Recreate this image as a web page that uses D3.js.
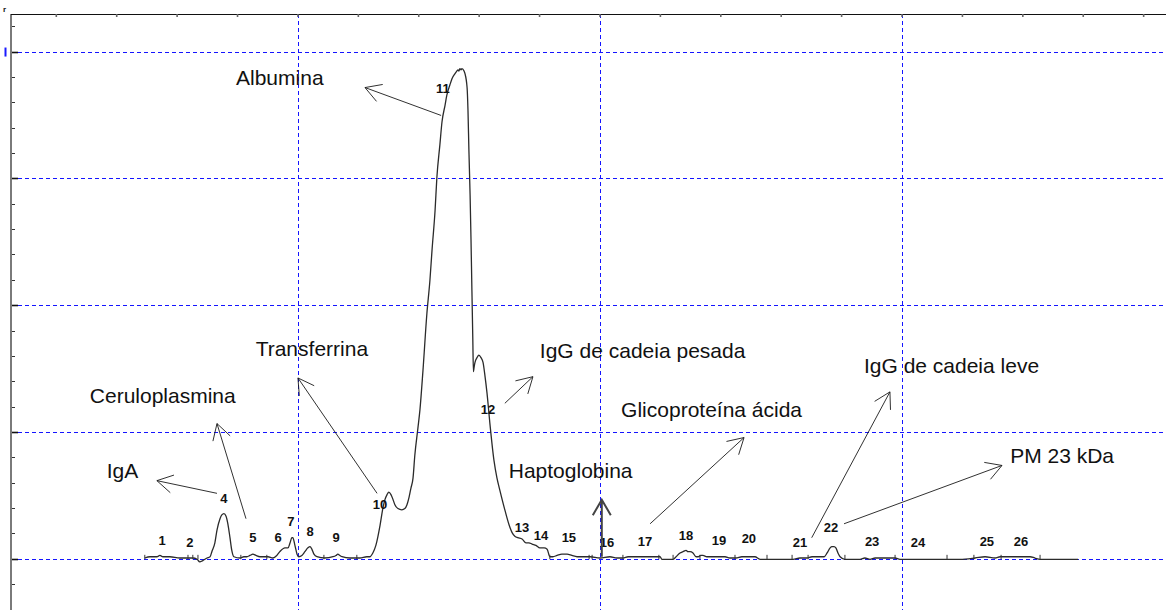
<!DOCTYPE html>
<html>
<head>
<meta charset="utf-8">
<script src="https://cdn.jsdelivr.net/npm/d3@7"></script>
<style>
  html, body { margin: 0; padding: 0; background: #fff; }
  svg { display: block; }
</style>
</head>
<body>
<svg id="chart" width="1166" height="610"></svg>
<script>
// Densitometric scan of a serum protein gel: [mobility (mm), optical density]
const densitometerTrace = [
  [4.93,0.01],[5.10,0.02],[5.33,0.02],[5.43,0.03],[5.53,0.02],[5.76,0.02],[6.09,0.01],[6.32,0.01],
  [6.52,0.01],[6.66,0.00],[6.75,-0.02],[6.85,-0.01],[6.99,0.01],[7.09,0.02],[7.15,0.06],[7.25,0.13],
  [7.32,0.23],[7.42,0.32],[7.48,0.35],[7.55,0.36],[7.62,0.34],[7.68,0.28],[7.75,0.17],[7.81,0.07],
  [7.88,0.02],[8.08,0.01],[8.21,0.02],[8.31,0.02],[8.41,0.03],[8.51,0.04],[8.61,0.03],[8.74,0.02],
  [9.01,0.02],[9.17,0.01],[9.30,0.03],[9.40,0.06],[9.57,0.09],[9.67,0.09],[9.74,0.13],[9.80,0.17],
  [9.83,0.17],[9.90,0.11],[9.97,0.04],[10.03,0.02],[10.13,0.03],[10.23,0.06],[10.33,0.09],[10.40,0.10],
  [10.46,0.08],[10.53,0.04],[10.63,0.02],[10.89,0.01],[11.16,0.02],[11.26,0.03],[11.32,0.04],[11.39,0.03],
  [11.46,0.02],[11.72,0.01],[12.05,0.01],[12.28,0.02],[12.38,0.02],[12.48,0.05],[12.58,0.11],[12.72,0.27],
  [12.81,0.40],[12.88,0.47],[12.95,0.51],[13.01,0.53],[13.08,0.51],[13.15,0.47],[13.21,0.43],[13.31,0.40],
  [13.44,0.39],[13.54,0.40],[13.61,0.43],[13.68,0.49],[13.74,0.56],[13.81,0.64],[13.87,0.82],[13.97,1.03],
  [14.04,1.18],[14.14,1.49],[14.27,1.94],[14.37,2.20],[14.44,2.44],[14.54,2.75],[14.60,3.01],[14.70,3.27],
  [14.77,3.45],[14.87,3.58],[14.93,3.66],[15.03,3.74],[15.10,3.79],[15.20,3.83],[15.26,3.85],[15.30,3.86],
  [15.33,3.85],[15.36,3.87],[15.40,3.86],[15.43,3.87],[15.50,3.85],[15.53,3.83],[15.60,3.72],[15.63,3.54],
  [15.66,3.23],[15.70,2.87],[15.73,2.52],[15.76,2.12],[15.79,1.73],[15.81,1.48],[15.83,1.51],[15.86,1.55],
  [15.93,1.59],[15.99,1.61],[16.06,1.59],[16.13,1.55],[16.19,1.45],[16.26,1.31],[16.36,1.06],[16.49,0.78],
  [16.59,0.64],[16.69,0.54],[16.85,0.39],[17.02,0.25],[17.09,0.21],[17.19,0.18],[17.28,0.17],[17.42,0.16],
  [17.55,0.13],[17.65,0.13],[17.75,0.12],[17.88,0.11],[18.01,0.09],[18.15,0.09],[18.25,0.08],[18.34,0.02],
  [18.44,0.02],[18.58,0.03],[18.74,0.04],[18.91,0.04],[19.07,0.03],[19.24,0.02],[19.44,0.02],[19.67,0.02],
  [20.00,0.01],[20.33,0.02],[20.56,0.01],[20.76,0.01],[20.93,0.02],[21.09,0.02],[21.32,0.02],[21.56,0.02],
  [21.75,0.02],[21.89,0.02],[21.99,0.02],[22.05,0.00],[22.32,0.00],[22.42,0.00],[22.52,0.02],[22.65,0.05],
  [22.75,0.06],[22.85,0.07],[22.91,0.06],[22.98,0.06],[23.08,0.05],[23.18,0.02],[23.25,0.02],[23.34,0.03],
  [23.41,0.03],[23.54,0.02],[23.71,0.02],[23.97,0.02],[24.14,0.02],[24.30,0.01],[24.50,0.01],[24.70,0.02],
  [24.87,0.02],[25.00,0.02],[25.13,0.02],[25.30,0.00],[25.63,0.00],[25.96,0.00],[26.39,0.00],[26.62,0.01],
  [26.85,0.01],[27.02,0.02],[27.28,0.02],[27.42,0.02],[27.52,0.05],[27.62,0.09],[27.68,0.10],[27.75,0.10],
  [27.81,0.09],[27.88,0.05],[27.95,0.02],[28.11,0.00],[28.44,0.00],[28.61,0.00],[28.77,0.01],[28.94,0.00],
  [29.11,0.01],[29.27,0.01],[29.54,0.01],[29.77,0.01],[29.93,0.00],[30.60,0.00],[31.92,0.00],[32.42,0.01],
  [32.75,0.02],[33.08,0.01],[33.25,0.02],[33.58,0.02],[33.91,0.02],[34.24,0.02],[34.40,0.01],[34.57,0.00],
  [35.83,0.00]
];

// Band boundaries marked by the integrator (mobility, mm)
const bandBoundaries = [4.93,6.36,6.52,6.69,8.11,8.97,10.86,11.95,18.34,19.64,19.74,20.76,21.95,
                        22.42,23.31,24.47,25.53,26.36,26.89,28.11,29.77,31.49,32.38,33.28,34.57];

// Band numbers and where each one is printed
const bandNumbers   = ["1","2","4","5","6","7","8","9","10","11","12","13","14","15","16","17","18","19","20","21","22","23","24","25","26"];
const bandNumberX   = [5.50,6.42,7.55,8.51,9.34,9.77,10.40,11.26,12.72,14.80,16.29,17.42,18.05,18.97,20.23,21.49,22.85,23.94,24.93,26.62,27.65,29.01,30.53,32.81,33.94];
const bandNumberY   = [0.15,0.13,0.48,0.17,0.17,0.30,0.22,0.17,0.43,3.71,1.18,0.25,0.19,0.17,0.13,0.14,0.19,0.15,0.16,0.13,0.25,0.14,0.13,0.14,0.14];

// Protein identifications with their callout text and arrows
const proteinNames  = ["Albumina","IgA","Ceruloplasmina","Transferrina","IgG de cadeia pesada","Glicoproteína ácida","Haptoglobina","IgG de cadeia leve","PM 23 kDa"];
const nameX         = [7.95,3.67,3.11,8.60,18.01,20.70,16.98,28.74,33.58];
const nameY         = [3.74,0.64,1.23,1.60,1.59,1.12,0.64,1.47,0.76];
const arrowTailX    = [14.74,7.32,8.28,12.62,16.85,21.66,20.06,27.01,28.08];
const arrowTailY    = [3.50,0.52,0.32,0.52,1.23,0.28,0.02,0.17,0.28];
const arrowTipX     = [12.22,5.33,7.32,10.00,17.78,24.77,20.06,29.60,33.31];
const arrowTipY     = [3.72,0.62,1.07,1.43,1.44,0.96,0.47,1.32,0.74];
const arrowBold     = [false,false,false,false,false,false,true,false,false];

// Grid and axis settings
const gridMobility  = [10, 20, 30];
const gridDensity   = [0, 1, 2, 3, 4];
const densityTicks  = d3.range(-0.4, 4.21, 0.2).map(v => +v.toFixed(1));
const mobilityTicks = d3.range(2, 39, 2);

const plot = { left: 11, top: 14, right: 1166, bottom: 610 };

const x = d3.scaleLinear().domain([0.5, 38.74]).range([plot.left, plot.right]);
const y = d3.scaleLinear().domain([-0.4, 4.3]).range([plot.bottom, plot.top]);
const snapX = v => Math.round(v) + 0.5;   // hairlines on the pixel grid
const snapY = v => Math.floor(v) + 0.5;

const svg = d3.select("#chart");
const FONT = "'Liberation Sans', Arial, Helvetica, sans-serif";
const GRID = "#1515ff";

// Dashed grid
svg.append("g").selectAll("line").data(gridDensity).join("line")
  .attr("x1", plot.left).attr("x2", plot.right)
  .attr("y1", d => snapY(y(d))).attr("y2", d => snapY(y(d)))
  .attr("stroke", GRID).attr("stroke-width", 1).attr("stroke-dasharray", "4,3");
svg.append("g").selectAll("line").data(gridMobility).join("line")
  .attr("x1", d => snapX(x(d))).attr("x2", d => snapX(x(d)))
  .attr("y1", plot.top).attr("y2", plot.bottom)
  .attr("stroke", GRID).attr("stroke-width", 1).attr("stroke-dasharray", "4,3");

// Frame: grey left axis, black top rule
svg.append("line").attr("x1", plot.left).attr("x2", plot.left)
  .attr("y1", plot.top).attr("y2", plot.bottom)
  .attr("stroke", "#7a7a7a").attr("stroke-width", 2);
svg.append("line").attr("x1", plot.left).attr("x2", plot.right)
  .attr("y1", plot.top + 0.5).attr("y2", plot.top + 0.5)
  .attr("stroke", "#111").attr("stroke-width", 1);

// Left axis ticks (long on whole units)
svg.append("g").selectAll("line").data(densityTicks).join("line")
  .attr("x1", plot.left + 1)
  .attr("x2", d => Number.isInteger(d) ? plot.left + 7 : plot.left + 4)
  .attr("y1", d => snapY(y(d))).attr("y2", d => snapY(y(d)))
  .attr("stroke", d => Number.isInteger(d) ? "#111" : "#333")
  .attr("stroke-width", d => Number.isInteger(d) ? 1.6 : 1);

// Top axis ticks
svg.append("g").selectAll("line").data(mobilityTicks).join("line")
  .attr("x1", d => x(d)).attr("x2", d => x(d))
  .attr("y1", plot.top).attr("y2", plot.top + 3)
  .attr("stroke", "#666").attr("stroke-width", 1.6);

// Clipped corner marks of the original scale
svg.append("text").attr("x", 3).attr("y", 12).text("r")
  .attr("font-family", FONT).attr("font-size", 8).attr("font-weight", "bold").attr("fill", "#111");
svg.append("rect").attr("x", 4.5).attr("y", y(4) - 4.5).attr("width", 2).attr("height", 9).attr("fill", "#1a1aff");

// Scan trace
const line = d3.line().x(d => x(d[0])).y(d => y(d[1])).curve(d3.curveMonotoneX);
svg.append("path").datum(densitometerTrace)
  .attr("d", line).attr("fill", "none")
  .attr("stroke", "#2b2b2b").attr("stroke-width", 1.3).attr("stroke-linejoin", "round");

// Band boundary markers on the baseline
svg.append("g").selectAll("line").data(bandBoundaries).join("line")
  .attr("x1", d => x(d)).attr("x2", d => x(d))
  .attr("y1", y(0)).attr("y2", y(0.035))
  .attr("stroke", "#333").attr("stroke-width", 1);

// Band numbers
svg.append("g").selectAll("text").data(bandNumbers).join("text")
  .attr("x", (d, i) => x(bandNumberX[i])).attr("y", (d, i) => y(bandNumberY[i]))
  .attr("text-anchor", "middle").attr("dominant-baseline", "central")
  .attr("font-family", FONT).attr("font-size", 13).attr("font-weight", "bold").attr("fill", "#111")
  .text(d => d);

// Callout arrows
const HEAD = 18, SPREAD = Math.PI / 6;
const arrows = svg.append("g");
proteinNames.forEach((name, i) => {
  const x0 = x(arrowTailX[i]), y0 = y(arrowTailY[i]);
  const x1 = x(arrowTipX[i]), y1 = y(arrowTipY[i]);
  const a = Math.atan2(y0 - y1, x0 - x1);
  const stroke = arrowBold[i] ? "#444" : "#1a1a1a";
  const width = arrowBold[i] ? 2 : 0.9;
  const p = d3.path();
  p.moveTo(x0, y0); p.lineTo(x1, y1);
  p.moveTo(x1 + HEAD * Math.cos(a + SPREAD), y1 + HEAD * Math.sin(a + SPREAD));
  p.lineTo(x1, y1);
  p.lineTo(x1 + HEAD * Math.cos(a - SPREAD), y1 + HEAD * Math.sin(a - SPREAD));
  arrows.append("path").attr("d", p.toString())
    .attr("fill", "none").attr("stroke", stroke).attr("stroke-width", width);
});

// Protein names
svg.append("g").selectAll("text").data(proteinNames).join("text")
  .attr("x", (d, i) => x(nameX[i])).attr("y", (d, i) => y(nameY[i]))
  .attr("font-family", FONT).attr("font-size", 21).attr("fill", "#111")
  .text(d => d);
</script>
</body>
</html>
